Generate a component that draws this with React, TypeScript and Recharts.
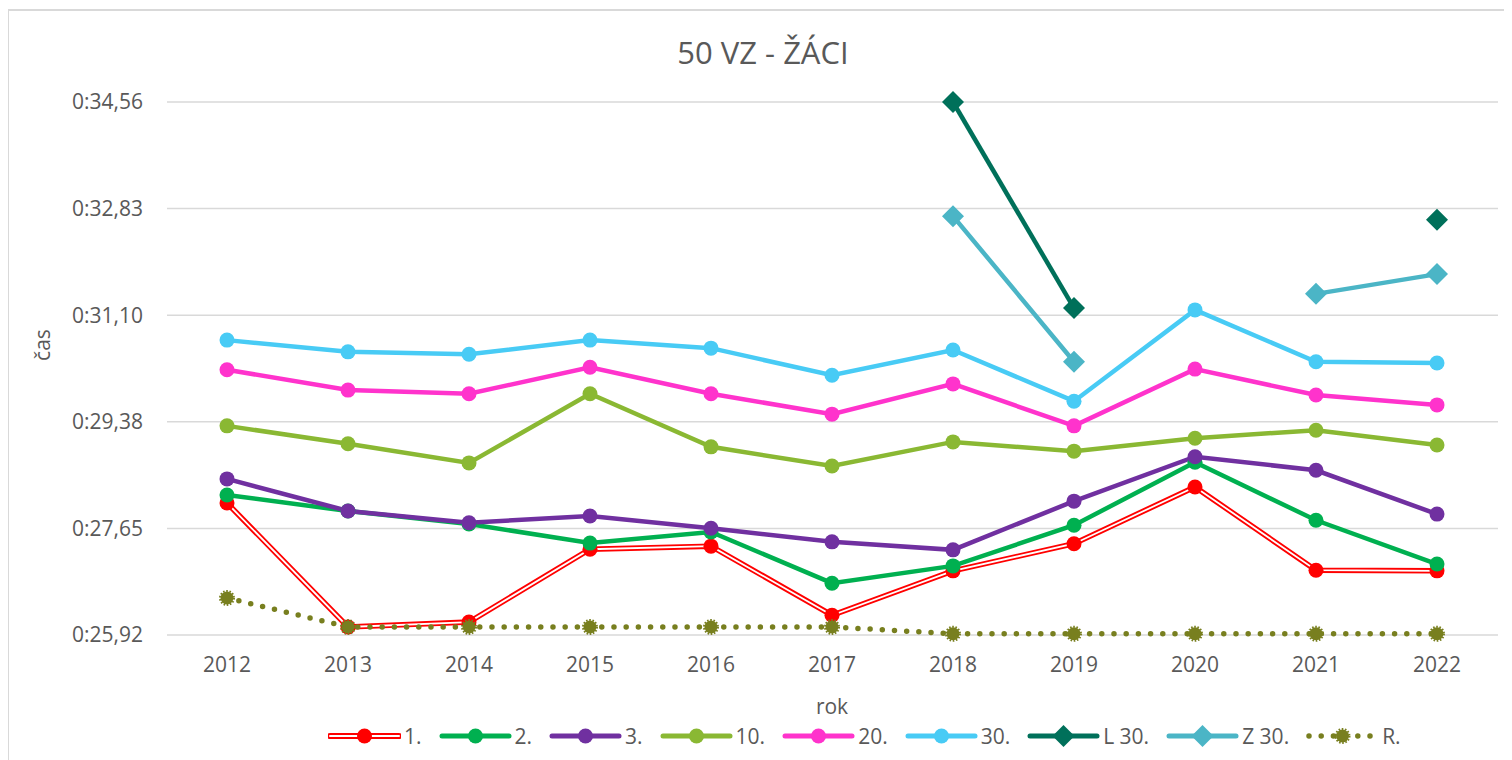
import React from 'react';
import { LineChart, Line, XAxis, YAxis, CartesianGrid } from 'recharts';

const years = ['2012', '2013', '2014', '2015', '2016', '2017', '2018', '2019', '2020', '2021', '2022'];
const s1 = [28.06, 26.05, 26.13, 27.31, 27.36, 26.24, 26.96, 27.4, 28.32, 26.97, 26.96];
const s2 = [28.19, 27.93, 27.72, 27.41, 27.59, 26.76, 27.04, 27.7, 28.72, 27.78, 27.07];
const s3 = [28.45, 27.93, 27.74, 27.85, 27.65, 27.43, 27.3, 28.09, 28.81, 28.59, 27.88];
const s10 = [29.31, 29.02, 28.71, 29.83, 28.97, 28.66, 29.05, 28.9, 29.11, 29.24, 29.0];
const s20 = [30.22, 29.89, 29.83, 30.26, 29.83, 29.5, 29.99, 29.31, 30.23, 29.81, 29.65];
const s30 = [30.7, 30.51, 30.47, 30.7, 30.57, 30.13, 30.54, 29.71, 31.19, 30.35, 30.33];
const l30 = [null, null, null, null, null, null, 34.56, 31.22, null, null, 32.65];
const z30 = [null, null, null, null, null, null, 32.71, 30.35, null, 31.45, 31.77];
const rec = [26.52, 26.05, 26.05, 26.05, 26.05, 26.05, 25.94, 25.94, 25.94, 25.94, 25.94];
const yTicks = [25.92, 27.648, 29.376, 31.104, 32.832, 34.56];
const seriesNames = ['1.', '2.', '3.', '10.', '20.', '30.', 'L 30.', 'Z 30.', 'R.'];
const seriesKeys = ['s1', 's2', 's3', 's10', 's20', 's30', 'l30', 'z30', 'rec'];
const seriesColors = ['#ff0000', '#00b050', '#7030a0', '#8ab833', '#ff33cc', '#48cbf5', '#00705a', '#4bb5c6', '#787f1f'];
const seriesKinds = ['double', 'circle', 'circle', 'circle', 'circle', 'circle', 'diamond', 'diamond', 'dotted'];
const seriesValues = [s1, s2, s3, s10, s20, s30, l30, z30, rec];

const data = years.map((y, i) => {
  const row: any = { year: y };
  seriesKeys.forEach((k, j) => {
    row[k] = seriesValues[j][i];
  });
  return row;
});

const FONT = '"Open Sans", "Noto Sans", sans-serif';
const TEXT = '#595959';

const fmt = (v: number) => '0:' + v.toFixed(2).replace('.', ',');

function Marker({ kind, color, cx, cy }: { kind: string; color: string; cx: number; cy: number }) {
  if (kind === 'diamond') {
    const h = 11;
    return <polygon points={`${cx},${cy - h} ${cx + h},${cy} ${cx},${cy + h} ${cx - h},${cy}`} fill={color} />;
  }
  if (kind === 'dotted') {
    return (
      <g>
        <circle cx={cx} cy={cy} r={6.5} fill={color} />
        <circle cx={cx} cy={cy} r={7} fill="none" stroke={color} strokeWidth={2} strokeDasharray="1.6 1.6" />
      </g>
    );
  }
  return <circle cx={cx} cy={cy} r={7.5} fill={color} />;
}

const makeDot = (kind: string, color: string) => (props: any) => {
  const { cx, cy, value, index, key } = props;
  const k = key ?? `d-${index}`;
  if (value == null || cx == null || cy == null || isNaN(cy)) return <g key={k} />;
  return (
    <g key={k}>
      <Marker kind={kind} color={color} cx={cx} cy={cy} />
    </g>
  );
};

function LegendIcon({ kind, color }: { kind: string; color: string }) {
  const w = 73;
  const h = 24;
  const cy = h / 2;
  let line: React.ReactNode;
  if (kind === 'double') {
    line = (
      <g>
        <line x1={2} y1={cy} x2={w - 2} y2={cy} stroke={color} strokeWidth={6} strokeLinecap="round" />
        <line x1={2} y1={cy} x2={w - 2} y2={cy} stroke="#fff" strokeWidth={2} strokeLinecap="round" />
      </g>
    );
  } else if (kind === 'dotted') {
    line = <line x1={3} y1={cy} x2={w - 3} y2={cy} stroke={color} strokeWidth={5.5} strokeLinecap="round" strokeDasharray="0 12.2" />;
  } else {
    line = <line x1={3} y1={cy} x2={w - 3} y2={cy} stroke={color} strokeWidth={5} strokeLinecap="round" />;
  }
  return (
    <svg width={w} height={h} style={{ display: 'block' }}>
      {line}
      <Marker kind={kind} color={color} cx={w / 2} cy={cy} />
    </svg>
  );
}

export default function App() {
  return (
    <div style={{ position: 'relative', width: 1504, height: 752, overflow: 'hidden', fontFamily: FONT, background: '#fff' }}>
      <div style={{ position: 'absolute', left: -1, top: 1, width: 2000, height: 2000, border: '2px solid #d9d9d9' }} />
      <div style={{ position: 'absolute', left: 0, top: 0 }}>
        <LineChart width={1504} height={752} data={data} margin={{ top: 94, right: 14, left: 0, bottom: 65 }}>
          <CartesianGrid vertical={false} stroke="#d9d9d9" strokeWidth={1.5} />
          <XAxis
            dataKey="year"
            padding={{ left: 60, right: 61 }}
            tickLine={false}
            axisLine={false}
            tickMargin={16}
            interval={0}
            height={60}
            tick={{ fill: TEXT, fontSize: 21, fontFamily: FONT }}
          />
          <YAxis
            type="number"
            domain={[25.92, 34.56]}
            ticks={yTicks}
            interval={0}
            width={159}
            tickLine={false}
            axisLine={false}
            tickMargin={18}
            tickFormatter={fmt}
            tick={{ fill: TEXT, fontSize: 21, fontFamily: FONT }}
          />
          {seriesKeys.map((k, j) => {
            const kind = seriesKinds[j];
            const color = seriesColors[j];
            if (kind === 'double') {
              return [
                <Line key={k + '-outer'} dataKey={k} stroke={color} strokeWidth={5.5} dot={false} activeDot={false} isAnimationActive={false} legendType="none" />,
                <Line key={k + '-inner'} dataKey={k} stroke="#ffffff" strokeWidth={1.8} dot={makeDot(kind, color)} activeDot={false} isAnimationActive={false} legendType="none" />,
              ];
            }
            if (kind === 'dotted') {
              return (
                <Line key={k} dataKey={k} stroke={color} strokeWidth={5.5} strokeLinecap="round" strokeDasharray="0 12.2" dot={makeDot(kind, color)} activeDot={false} isAnimationActive={false} />
              );
            }
            return <Line key={k} dataKey={k} stroke={color} strokeWidth={4.5} dot={makeDot(kind, color)} activeDot={false} isAnimationActive={false} />;
          })}
        </LineChart>
      </div>
      <div style={{ position: 'absolute', left: 0, width: 1510, top: 23, textAlign: 'center', fontSize: 31, color: TEXT, whiteSpace: 'nowrap' }}>
        50 VZ - ŽÁCI
      </div>
      <div style={{ position: 'absolute', left: 824, top: 684, transform: 'translateX(-50%)', fontSize: 21, color: TEXT }}>rok</div>
      <div
        style={{
          position: 'absolute',
          left: 34,
          top: 337,
          transform: 'translate(-50%, -50%) rotate(-90deg)',
          fontSize: 21,
          color: TEXT,
        }}
      >
        čas
      </div>
      <div style={{ position: 'absolute', left: 320, top: 728, transform: 'translateY(-50%)', display: 'flex', alignItems: 'center', whiteSpace: 'nowrap' }}>
        {seriesNames.map((n, j) => (
          <div key={n} style={{ display: 'flex', alignItems: 'center', marginRight: 17 }}>
            <LegendIcon kind={seriesKinds[j]} color={seriesColors[j]} />
            <span style={{ marginLeft: 3, fontSize: 21, color: TEXT, lineHeight: '24px' }}>{n}</span>
          </div>
        ))}
      </div>
    </div>
  );
}
